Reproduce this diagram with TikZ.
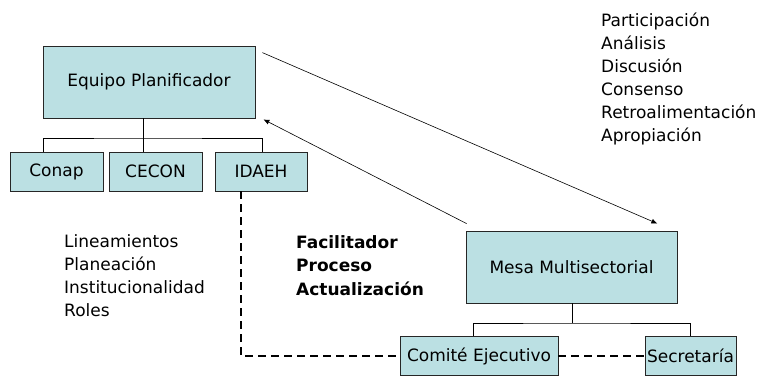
\documentclass[tikz,border=0pt]{standalone}
\usepackage{fontspec}
\setmainfont{DejaVu Sans}
\usetikzlibrary{arrows.meta}
\definecolor{boxfill}{RGB}{187,224,227}
\tikzset{
  box/.style={draw=black!85, fill=boxfill, line width=0.8pt, inner sep=0pt},
  tree/.style={line width=0.8pt},
  flow/.style={line width=0.6pt, -{Latex[length=6pt,width=5pt]}},
  dashline/.style={line width=1.8pt, dash pattern=on 8pt off 5pt},
  word/.style={anchor=base west, inner sep=0pt}
}
\begin{document}
\begin{tikzpicture}[x=1pt,y=-1pt,font=\fontsize{17pt}{23pt}\selectfont]
    \useasboundingbox (0,0) rectangle (758,376);
    % planning team and its members
    \node[box, minimum width=212pt, minimum height=72pt] (ep) at (149,82) {Equipo Planificador};
    \node[box, minimum width=93pt, minimum height=39pt] (conap) at (56.5,171.5) {Conap};
    \node[box, minimum width=93pt, minimum height=39pt] (cecon) at (155.5,171.5) {CECON};
    \node[box, minimum width=92pt, minimum height=39pt] (idaeh) at (261,171.5) {IDAEH};
    \coordinate (t1) at (143,138);
    \draw[tree] (t1 |- ep.south) -- (t1);
    \draw[tree] ([xshift=-13.5pt]conap.north) |- (t1) -| ([xshift=1pt]idaeh.north);
    \draw[tree] (t1) -- (t1 |- cecon.north);
    % multisectoral table
    \node[box, minimum width=211pt, minimum height=72pt] (mesa) at (571.5,267) {Mesa Multisectorial};
    \node[box, minimum width=158pt, minimum height=39pt] (comite) at (479,356) {Comité Ejecutivo};
    \node[box, minimum width=91pt, minimum height=39pt] (secre) at (690.5,356) {Secretaría};
    \coordinate (t2) at (572,323);
    \draw[tree] (t2 |- mesa.south) -- (t2);
    \draw[tree] ([xshift=-6pt]comite.north) |- (t2) -| (secre.north);
    % links
    \draw[flow] ([shift={(7pt,-7pt)}]ep.north east) -- ([shift={(-20pt,7pt)}]mesa.north east);
    \draw[flow] ([shift={(1pt,7pt)}]mesa.north west) -- ([shift={(8pt,-1pt)}]ep.south east);
    \draw[dashline] ([xshift=-20pt]idaeh.south) |- (comite.west);
    \draw[dashline] (comite.east) -- (secre.west);
    % word lists
    \foreach \w [count=\i] in {Participación, Análisis, Discusión, Consenso, Retroalimentación, Apropiación}
        \node[word] (r\i) at (601,{26+23*(\i-1)}) {\w};
    \foreach \w [count=\i] in {Lineamientos, Planeación, Institucionalidad, Roles}
        \node[word] (l\i) at (64,{247+23*(\i-1)}) {\w};
    \foreach \w [count=\i] in {Facilitador, Proceso, Actualización}
        \node[word, font=\fontsize{17pt}{23pt}\selectfont\bfseries] (f\i) at (296,{248+23.5*(\i-1)}) {\w};
\end{tikzpicture}
\end{document}
